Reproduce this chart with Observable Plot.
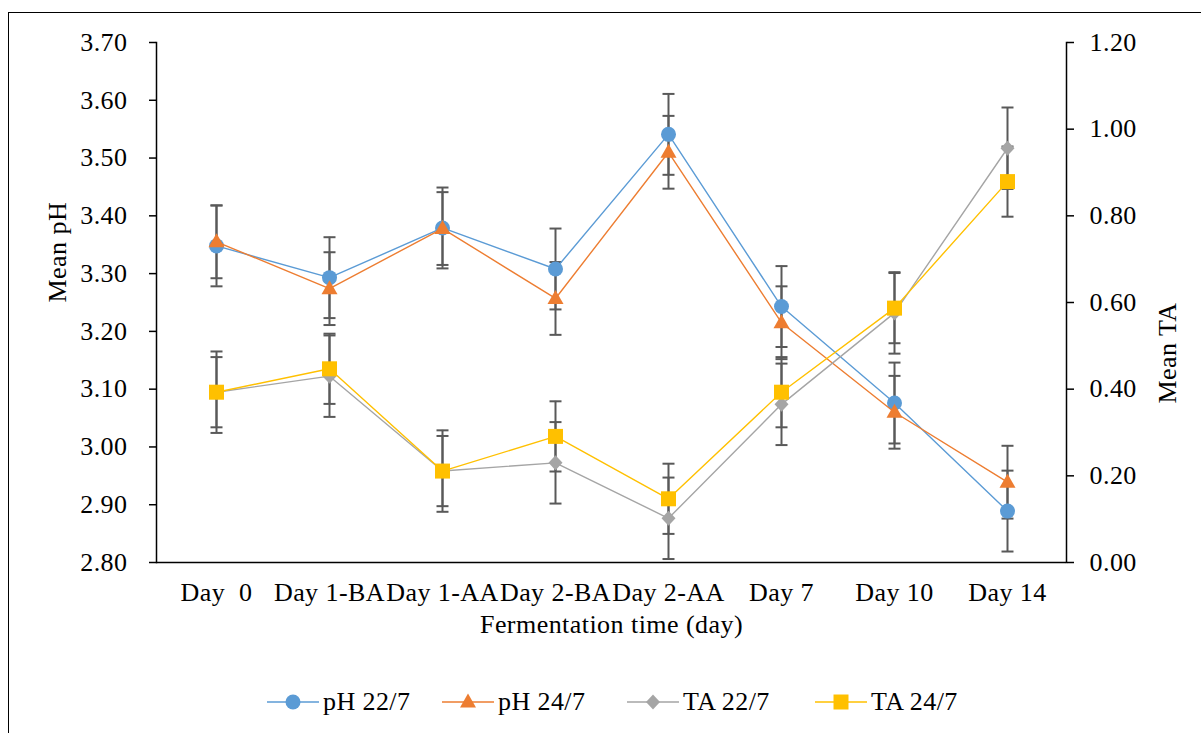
<!DOCTYPE html>
<html>
<head>
<meta charset="utf-8">
<script src="https://cdn.jsdelivr.net/npm/d3@7"></script>
<script src="https://cdn.jsdelivr.net/npm/@observablehq/plot@0.6"></script>
<style>
  html, body { margin: 0; padding: 0; background: #fff; overflow: hidden; width: 1201px; height: 733px; }
  #page { position: relative; width: 1201px; height: 733px; font-family: "Liberation Serif", "Times New Roman", serif; }
  #border { position: absolute; left: 8px; top: 12px; right: -20px; bottom: -20px; border-top: 1.5px solid #000; border-left: 1.5px solid #000; pointer-events: none; }
  #chart svg text { white-space: pre; letter-spacing: 0.45px; }
  #legend { position: relative; width: 1201px; height: 63px; }
  .item { position: absolute; top: 0; height: 63px; display: flex; align-items: center; font-family: "Liberation Serif", "Times New Roman", serif; font-size: 26px; letter-spacing: 0.4px; color: #000; }
  .item svg { margin-right: 4px; }
</style>
</head>
<body>
<div id="page">
  <div id="chart"></div>
  <div id="legend"></div>
  <div id="border"></div>
</div>
<script>
// ---- data ----
const categories = ["Day  0", "Day 1-BA", "Day 1-AA", "Day 2-BA", "Day 2-AA", "Day 7", "Day 10", "Day 14"];
const seriesNames = ["pH 22/7", "pH 24/7", "TA 22/7", "TA 24/7"];
const ph22 = [3.348, 3.293, 3.379, 3.308, 3.541, 3.243, 3.076, 2.889];
const ph24 = [3.355, 3.274, 3.378, 3.257, 3.510, 3.215, 3.060, 2.939];
const ta22 = [0.393, 0.430, 0.211, 0.230, 0.102, 0.365, 0.576, 0.956];
const ta24 = [0.393, 0.447, 0.211, 0.291, 0.147, 0.393, 0.587, 0.879];
const errors = [0.070, 0.063, 0.094, 0.081];
const phTicks = [2.8, 2.9, 3.0, 3.1, 3.2, 3.3, 3.4, 3.5, 3.6, 3.7];
const taTicks = [0, 0.2, 0.4, 0.6, 0.8, 1.0, 1.2];

// ---- styles ----
const colors = ["#5B9BD5", "#ED7D31", "#A5A5A5", "#FFC000"];
const errColor = "#595959";
const FONT = "'Liberation Serif', 'Times New Roman', serif";

// secondary axis: TA values expressed on the pH scale
const taToPh = d3.scaleLinear().domain([0, 1.2]).range([2.8, 3.7]);

const symTriangle = { draw(ctx) { ctx.moveTo(0, -8.5); ctx.lineTo(8, 5.5); ctx.lineTo(-8, 5.5); ctx.closePath(); } };
const symDiamond = { draw(ctx) { ctx.moveTo(0, -7.5); ctx.lineTo(7, 0); ctx.lineTo(0, 7.5); ctx.lineTo(-7, 0); ctx.closePath(); } };
const symSquare = { draw(ctx) { ctx.rect(-7.5, -7.5, 15, 15); } };
const symCap = { draw(ctx) { ctx.moveTo(-6, 0); ctx.lineTo(6, 0); } };
const symbols = ["circle", symTriangle, symDiamond, symSquare];

const valueSets = [ph22, ph24, ta22, ta24];
const isTA = [false, false, true, true];

const series = seriesNames.map((name, k) => {
  const conv = isTA[k] ? taToPh : (v => v);
  return categories.map((day, i) => ({
    series: name,
    day,
    y: conv(valueSets[k][i]),
    lo: conv(valueSets[k][i] - errors[k]),
    hi: conv(valueSets[k][i] + errors[k])
  }));
});
const allRows = series.flat();

const marks = [
  Plot.ruleY([2.8], { stroke: "#000", strokeWidth: 1.5 }),
  Plot.frame({ anchor: "left", stroke: "#000", strokeWidth: 1.5 }),
  Plot.frame({ anchor: "right", stroke: "#000", strokeWidth: 1.5 }),
  Plot.axisY(phTicks, { anchor: "left", tickSize: 7, tickPadding: 22, strokeWidth: 1.5, tickFormat: d => d.toFixed(2), label: null, fontSize: 26, fill: "#000" }),
  Plot.axisY(taTicks.map(t => taToPh(t)), { anchor: "right", tickSize: 7, tickPadding: 16, strokeWidth: 1.5, tickFormat: d => taToPh.invert(d).toFixed(2), label: null, fontSize: 26, fill: "#000" }),
  Plot.axisX({ tickSize: 0, tickPadding: 20, label: null, fontSize: 26, fill: "#000" }),
  Plot.text(["Mean pH"], { frameAnchor: "left", dx: -99, rotate: -90, fontSize: 26, fill: "#000" }),
  Plot.text(["Mean TA"], { frameAnchor: "right", dx: 101, rotate: -90, fontSize: 26, fill: "#000" }),
  Plot.text(["Fermentation time (day)"], { frameAnchor: "bottom", dy: 70, fontSize: 26, fill: "#000" }),
  // error bars
  Plot.ruleX(allRows, { x: "day", y1: "lo", y2: "hi", stroke: errColor, strokeWidth: 2 }),
  Plot.dot(allRows, { x: "day", y: "lo", symbol: symCap, stroke: errColor, strokeWidth: 2, fill: "none" }),
  Plot.dot(allRows, { x: "day", y: "hi", symbol: symCap, stroke: errColor, strokeWidth: 2, fill: "none" })
];

series.forEach((rows, k) => {
  marks.push(Plot.line(rows, { x: "day", y: "y", stroke: colors[k], strokeWidth: 1.4 }));
  marks.push(Plot.dot(rows, { x: "day", y: "y", symbol: symbols[k], r: 7.5, fill: colors[k], stroke: "none" }));
});

const chart = Plot.plot({
  width: 1201,
  height: 670,
  marginTop: 42,
  marginBottom: 108,
  marginLeft: 156,
  marginRight: 135,
  style: { fontFamily: FONT, fontSize: "26px", color: "#000", background: "transparent" },
  x: { type: "point", domain: categories, padding: 0.5, axis: null },
  y: { type: "linear", domain: [2.8, 3.7], axis: null },
  marks
});
document.getElementById("chart").appendChild(chart);

// ---- legend ----
const legendLefts = [267, 442, 627, 815];
const legend = document.getElementById("legend");
const legendPaths = [
  null,
  "M26,-8.5 L34,5.5 L18,5.5 Z",
  "M26,-7.5 L33,0 L26,7.5 L19,0 Z",
  "M18.5,-7.5 h15 v15 h-15 Z"
];
seriesNames.forEach((name, k) => {
  const item = document.createElement("div");
  item.className = "item";
  item.style.left = legendLefts[k] + "px";
  const marker = k === 0
    ? `<circle cx="26" cy="0" r="7.5" fill="${colors[k]}"/>`
    : `<path d="${legendPaths[k]}" fill="${colors[k]}"/>`;
  item.innerHTML = `<svg width="52" height="20" viewBox="0 -10 52 20"><line x1="0" x2="52" y1="0" y2="0" stroke="${colors[k]}" stroke-width="1.4"/>${marker}</svg><span>${name}</span>`;
  legend.appendChild(item);
});
</script>
</body>
</html>
